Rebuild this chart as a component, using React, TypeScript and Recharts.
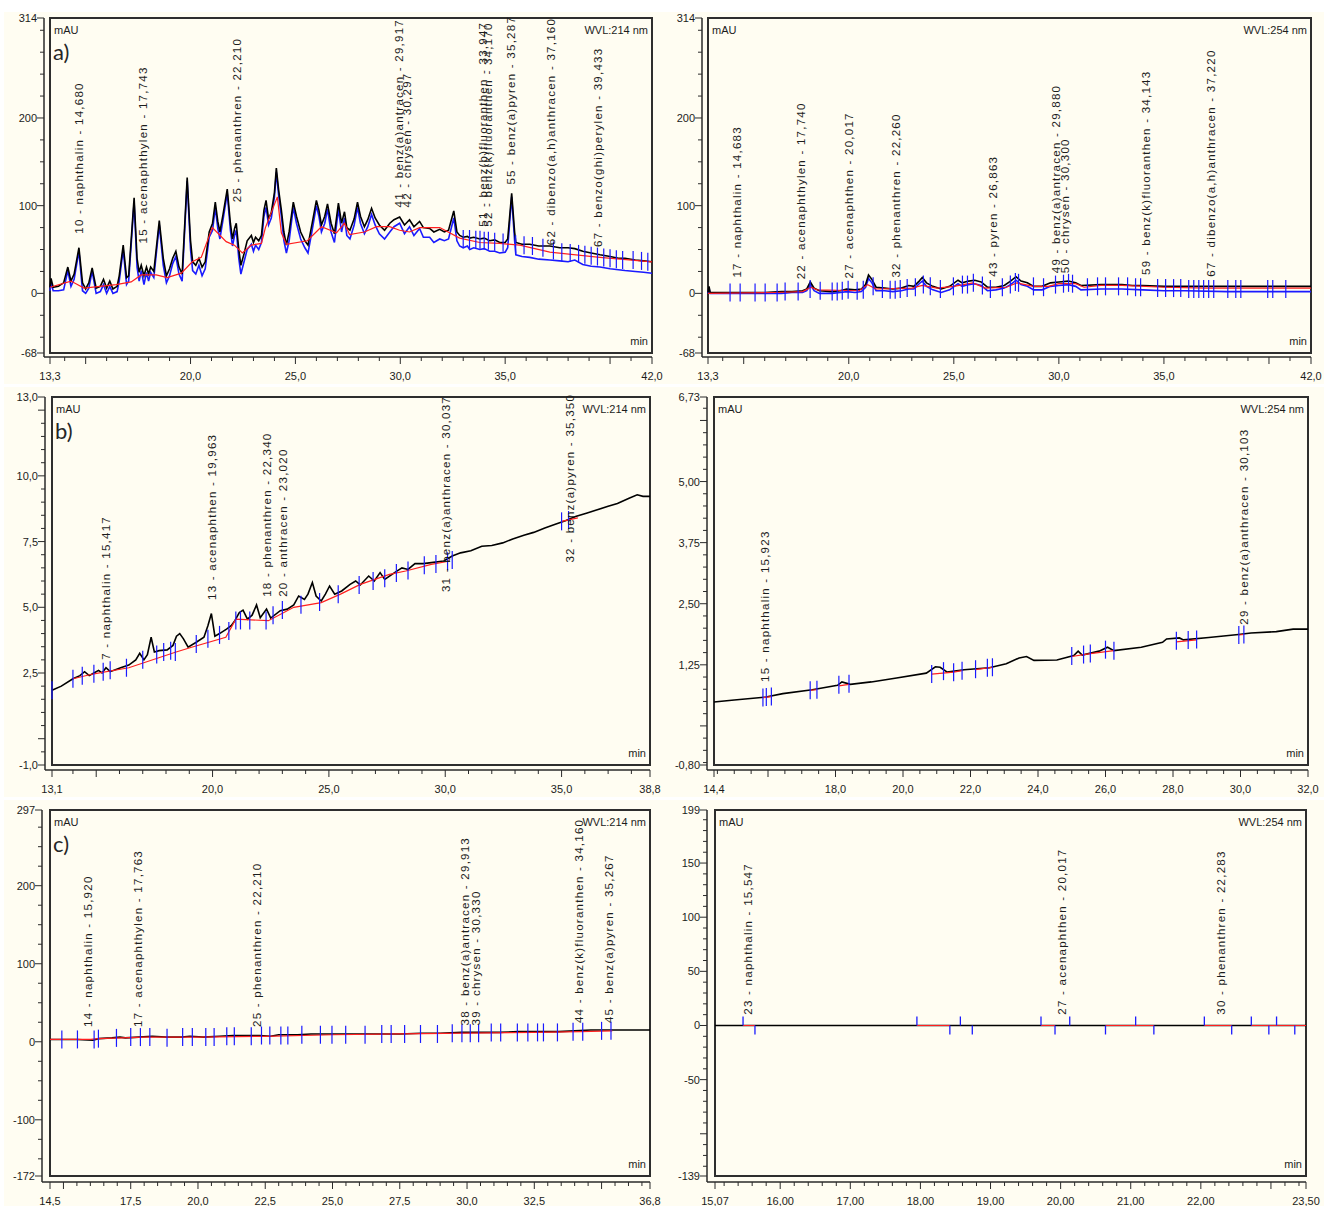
import React from "react";
import { ComposedChart, Line, Scatter, XAxis, YAxis, ReferenceArea } from "recharts";

type Pt = { t: number; v: number | null };
type Peak = { t: number; v: number; name: string };

const pts = (rows: [number, number | null][]): Pt[] => rows.map(([t, v]) => ({ t, v }));
const pk = (rows: [number, number, string][]): Peak[] => rows.map(([t, v, name]) => ({ t, v, name }));

// ---------- a) 214 nm ----------
const aLeftBlack = pts([
  [13.3, 7], [13.35, 17], [13.45, 7], [13.7, 8], [13.95, 12], [14.15, 30], [14.3, 14], [14.45, 22], [14.68, 52],
  [14.85, 12], [15.0, 5], [15.15, 12], [15.31, 29], [15.5, 6], [15.7, 8], [15.85, 16], [16.0, 6], [16.15, 14],
  [16.3, 5], [16.5, 8], [16.6, 20], [16.79, 55], [16.95, 18], [17.05, 20], [17.31, 109], [17.45, 40], [17.55, 24],
  [17.65, 32], [17.78, 20], [17.9, 30], [18.0, 22], [18.1, 30], [18.25, 25], [18.51, 83], [18.7, 40], [18.85, 20],
  [19.0, 28], [19.15, 40], [19.3, 48], [19.45, 30], [19.6, 22], [19.84, 132], [20.0, 60], [20.1, 36], [20.25, 32],
  [20.4, 40], [20.55, 30], [20.7, 36], [20.89, 70], [21.05, 80], [21.18, 104], [21.3, 82], [21.4, 70], [21.55, 90],
  [21.75, 119], [21.9, 80], [22.0, 62], [22.1, 74], [22.18, 80], [22.3, 50], [22.4, 32], [22.55, 45], [22.7, 60],
  [22.9, 66], [23.0, 58], [23.1, 64], [23.25, 60], [23.38, 66], [23.5, 95], [23.6, 106], [23.72, 85], [23.85, 92],
  [24.0, 115], [24.09, 143], [24.2, 118], [24.33, 95], [24.45, 70], [24.57, 55], [24.7, 70], [24.9, 104], [25.05, 88],
  [25.25, 70], [25.45, 60], [25.6, 55], [25.8, 80], [26.0, 106], [26.12, 95], [26.24, 78], [26.4, 88], [26.53, 102],
  [26.7, 80], [26.86, 68], [27.05, 103], [27.2, 80], [27.34, 93], [27.45, 75], [27.6, 72], [27.8, 85], [27.96, 104],
  [28.1, 88], [28.29, 76], [28.45, 84], [28.63, 97], [28.8, 86], [29.0, 78], [29.25, 72], [29.5, 80], [29.7, 84],
  [29.97, 87], [30.2, 78], [30.44, 84], [30.65, 76], [30.92, 82], [31.1, 75], [31.4, 74], [31.6, 70], [31.88, 73],
  [32.1, 70], [32.3, 72], [32.55, 94], [32.7, 70], [32.83, 66], [33.0, 64], [33.2, 65], [33.31, 63], [33.5, 64],
  [33.79, 62], [34.0, 63], [34.26, 60], [34.5, 61], [34.74, 58], [35.0, 58], [35.12, 62], [35.31, 114], [35.45, 70],
  [35.51, 58], [35.8, 56], [36.17, 56], [36.6, 54], [37.13, 54], [37.6, 52], [38.0, 52], [38.32, 51], [38.7, 48],
  [39.1, 46], [39.52, 44], [40.0, 42], [40.4, 40], [40.71, 40], [41.2, 38], [41.6, 37], [42.0, 36],
]);

const aLeftBlue = pts([
  [13.3, 3], [13.35, 12], [13.45, 3], [13.7, 3], [13.95, 4], [14.15, 26], [14.3, 8], [14.45, 16], [14.68, 48],
  [14.85, 3], [15.0, 0], [15.15, 6], [15.31, 25], [15.5, 0], [15.7, 2], [15.85, 10], [16.0, 0], [16.15, 8],
  [16.3, 0], [16.5, 2], [16.6, 14], [16.79, 50], [16.95, 10], [17.05, 14], [17.31, 104], [17.45, 30], [17.55, 14],
  [17.65, 26], [17.78, 10], [17.9, 24], [18.0, 14], [18.1, 24], [18.25, 18], [18.51, 78], [18.7, 32], [18.85, 12],
  [19.0, 20], [19.15, 34], [19.3, 42], [19.45, 22], [19.6, 14], [19.84, 128], [20.0, 50], [20.1, 26], [20.25, 22],
  [20.4, 32], [20.55, 20], [20.7, 28], [20.89, 64], [21.05, 72], [21.18, 98], [21.3, 74], [21.4, 62], [21.55, 84],
  [21.75, 114], [21.9, 72], [22.0, 54], [22.1, 66], [22.18, 72], [22.3, 40], [22.4, 22], [22.55, 36], [22.7, 50],
  [22.9, 56], [23.0, 48], [23.1, 55], [23.25, 50], [23.38, 58], [23.5, 88], [23.6, 98], [23.72, 78], [23.85, 86],
  [24.0, 110], [24.09, 138], [24.2, 112], [24.33, 88], [24.45, 60], [24.57, 46], [24.7, 60], [24.9, 98], [25.05, 80],
  [25.25, 62], [25.45, 52], [25.6, 46], [25.8, 72], [26.0, 100], [26.12, 88], [26.24, 70], [26.4, 80], [26.53, 96],
  [26.7, 70], [26.86, 58], [27.05, 96], [27.2, 70], [27.34, 86], [27.45, 66], [27.6, 62], [27.8, 78], [27.96, 98],
  [28.1, 80], [28.29, 68], [28.45, 76], [28.63, 90], [28.8, 78], [29.0, 68], [29.25, 62], [29.5, 70], [29.7, 76],
  [29.97, 80], [30.2, 68], [30.44, 76], [30.65, 66], [30.92, 74], [31.1, 64], [31.4, 64], [31.6, 58], [31.88, 62],
  [32.1, 60], [32.3, 62], [32.55, 86], [32.7, 60], [32.83, 54], [33.0, 52], [33.2, 54], [33.31, 50], [33.5, 52],
  [33.79, 50], [34.0, 51], [34.26, 48], [34.5, 48], [34.74, 46], [35.0, 47], [35.12, 52], [35.31, 110], [35.45, 60],
  [35.51, 44], [35.8, 42], [36.17, 41], [36.6, 39], [37.13, 38], [37.6, 37], [38.0, 36], [38.32, 38], [38.7, 33],
  [39.1, 31], [39.52, 30], [40.0, 28], [40.4, 27], [40.71, 26], [41.2, 25], [41.6, 24], [42.0, 23],
]);

const aLeftRed = pts([
  [13.3, 7], [14.3, 14], [14.92, 6], [16.45, 10], [17.17, 13], [17.65, 21], [18.36, 21], [18.89, 18], [19.56, 23],
  [20.08, 36], [20.51, 41], [21.04, 75], [21.7, 59], [22.09, 55], [22.47, 46], [22.9, 55], [23.38, 57], [23.57, 75],
  [24.14, 110], [24.33, 69], [24.57, 56], [25.57, 60], [26.24, 76], [26.96, 69], [27.34, 80], [27.58, 67],
  [28.29, 70], [28.87, 76], [29.49, 76], [29.97, 72], [30.44, 70], [30.92, 75], [31.88, 75], [32.83, 63],
  [33.79, 58], [34.74, 57], [35.7, 55], [37.13, 47], [39.52, 41], [42.0, 36],
]);

const aLeftMarks = pts([
  [33.0, 62], [33.3, 62], [33.6, 61], [33.8, 61], [34.0, 60], [34.2, 60], [34.5, 59], [34.9, 58], [35.5, 56],
  [35.9, 55], [36.3, 54], [36.8, 52], [37.3, 49], [37.7, 47], [38.1, 46], [38.5, 45], [38.8, 44], [39.1, 43],
  [39.4, 42], [39.7, 41], [40.0, 40], [40.3, 39], [40.6, 38], [41.1, 38], [41.5, 37], [41.8, 36],
]);

const aLeftPeaks = pk([
  [14.68, 68, "10 - naphthalin - 14,680"],
  [17.743, 57, "15 - acenaphthylen - 17,743"],
  [22.21, 104, "25 - phenanthren - 22,210"],
  [29.917, 98, "41 - benz(a)antracen - 29,917"],
  [30.297, 98, "42 - chrysen - 30,297"],
  [33.947, 76, "51 - benz(b)fluoranthen - 33,947"],
  [34.17, 76, "52 - benz(k)fluoranthen - 34,170"],
  [35.287, 124, "55 - benz(a)pyren - 35,287"],
  [37.16, 55, "62 - dibenzo(a,h)anthracen - 37,160"],
  [39.433, 53, "67 - benzo(ghi)perylen - 39,433"],
]);

// ---------- a) 254 nm ----------
const aRightBlack = pts([
  [13.3, 1], [13.35, 8], [13.4, 1], [14.0, 1], [15.0, 1], [16.0, 1], [16.8, 2], [17.3, 2], [17.8, 3], [18.0, 5],
  [18.17, 13], [18.35, 6], [18.6, 3], [19.2, 2], [19.6, 3], [19.9, 5], [20.3, 4], [20.6, 5], [20.8, 10], [20.94, 21],
  [21.1, 16], [21.3, 7], [21.7, 6], [22.1, 5], [22.5, 6], [22.85, 9], [23.1, 8], [23.35, 14], [23.5, 18], [23.7, 12],
  [24.0, 8], [24.4, 5], [24.8, 8], [25.2, 15], [25.4, 12], [25.7, 14], [26.0, 15], [26.3, 13], [26.6, 7], [27.0, 7],
  [27.4, 9], [27.7, 14], [27.96, 19], [28.2, 14], [28.5, 12], [28.8, 8], [29.2, 8], [29.6, 12], [30.0, 13],
  [30.45, 14], [30.8, 12], [31.05, 9], [32.0, 10], [33.0, 10], [33.5, 9], [34.0, 9], [35.0, 8], [36.0, 8],
  [38.0, 8], [40.0, 8], [42.0, 8],
]);

const aRightBlue = pts([
  [13.3, 0], [13.35, 6], [13.4, 0], [16.0, 0], [16.8, 0], [17.3, 1], [17.8, 1], [18.0, 3], [18.17, 10], [18.35, 3],
  [18.6, 0], [19.2, 0], [19.6, 1], [19.9, 2], [20.3, 1], [20.6, 2], [20.8, 7], [20.94, 17], [21.1, 12], [21.3, 3],
  [21.7, 3], [22.1, 2], [22.5, 3], [22.85, 5], [23.1, 5], [23.35, 11], [23.5, 14], [23.7, 8], [24.0, 4], [24.4, 1],
  [24.8, 4], [25.2, 11], [25.4, 8], [25.7, 10], [26.0, 11], [26.3, 9], [26.6, 3], [27.0, 4], [27.4, 6], [27.7, 10],
  [27.96, 15], [28.2, 10], [28.5, 8], [28.8, 4], [29.2, 4], [29.6, 8], [30.0, 9], [30.45, 10], [30.8, 8], [31.05, 4],
  [32.0, 5], [33.0, 5], [34.0, 4], [35.0, 3], [36.0, 3], [38.0, 2], [40.0, 2], [42.0, 2],
]);

const aRightRed = pts([
  [13.3, 0], [16.5, 1], [17.8, 2], [18.2, 7], [18.5, 4], [20.5, 3], [20.9, 10], [21.3, 5], [23.0, 6], [23.5, 9],
  [24.2, 6], [25.0, 8], [25.9, 12], [26.5, 6], [27.5, 7], [28.0, 12], [28.8, 8], [29.5, 8], [30.0, 11], [30.8, 11],
  [31.2, 7], [32.0, 9], [33.0, 9], [35.0, 7], [37.0, 6], [40.0, 6], [42.0, 6],
]);

const aRightMarks = pts([
  [14.35, 1], [14.83, 1], [15.54, 1], [16.02, 1], [16.59, 1], [16.97, 2], [17.59, 2], [18.16, 5], [18.64, 3],
  [19.21, 2], [19.45, 2], [19.69, 3], [19.97, 4], [20.4, 3], [20.69, 4], [21.16, 8], [21.6, 5], [21.97, 4],
  [22.21, 4], [22.45, 5], [22.78, 6], [23.17, 7], [23.55, 10], [23.88, 8], [24.36, 5], [24.98, 8], [25.41, 10],
  [25.65, 10], [25.93, 12], [26.36, 9], [26.74, 5], [27.31, 7], [27.69, 10], [27.93, 13], [28.08, 12], [28.79, 8],
  [29.27, 7], [29.84, 10], [30.22, 11], [30.46, 12], [30.65, 11], [31.36, 7], [31.84, 8], [32.22, 8], [32.84, 8],
  [33.27, 8], [33.65, 7], [33.89, 7], [34.7, 6], [35.08, 6], [35.46, 6], [35.8, 6], [36.18, 5], [36.42, 5],
  [36.66, 5], [36.89, 5], [37.13, 5], [37.37, 5], [38.04, 5], [38.42, 5], [38.66, 5], [39.94, 5], [40.18, 5],
  [40.8, 5],
]);

const aRightPeaks = pk([
  [14.683, 18, "17 - naphthalin - 14,683"],
  [17.74, 16, "22 - acenaphthylen - 17,740"],
  [20.017, 17, "27 - acenaphthen - 20,017"],
  [22.26, 18, "32 - phenanthren - 22,260"],
  [26.863, 19, "43 - pyren - 26,863"],
  [29.88, 23, "49 - benz(a)antracen - 29,880"],
  [30.3, 23, "50 - chrysen - 30,300"],
  [34.143, 21, "59 - benz(k)fluoranthen - 34,143"],
  [37.22, 19, "67 - dibenzo(a,h)anthracen - 37,220"],
]);

// ---------- b) 214 nm ----------
const bLeftBlack = pts([
  [13.1, 1.84], [13.5, 2.0], [14.0, 2.28], [14.3, 2.4], [14.5, 2.55], [14.7, 2.4], [14.9, 2.5], [15.1, 2.6],
  [15.25, 2.5], [15.42, 2.7], [15.6, 2.55], [16.05, 2.7], [16.4, 2.8], [16.7, 3.0], [16.87, 3.25], [17.05, 3.0],
  [17.2, 3.2], [17.36, 3.86], [17.5, 3.3], [17.7, 3.35], [18.05, 3.38], [18.3, 3.55], [18.45, 3.9], [18.59, 4.0],
  [18.75, 3.8], [18.95, 3.48], [19.3, 3.67], [19.63, 3.86], [19.8, 4.3], [19.95, 4.76], [20.1, 3.9], [20.3, 4.0],
  [20.6, 4.17], [20.8, 4.3], [20.96, 4.49], [21.15, 4.8], [21.31, 4.89], [21.5, 4.55], [21.7, 4.7], [21.89, 5.09],
  [22.05, 4.6], [22.32, 4.93], [22.5, 4.59], [22.91, 4.87], [23.21, 4.93], [23.49, 5.09], [23.7, 5.43], [23.95, 5.3],
  [24.1, 5.5], [24.29, 5.94], [24.45, 5.43], [24.67, 5.24], [24.85, 5.5], [25.03, 5.81], [25.25, 5.5], [25.55, 5.62],
  [25.91, 5.87], [26.15, 6.0], [26.35, 5.85], [26.71, 6.19], [26.95, 6.0], [27.2, 6.32], [27.4, 6.06], [27.87, 6.35],
  [28.14, 6.5], [28.4, 6.44], [28.7, 6.66], [29.05, 6.66], [29.4, 6.7], [29.94, 6.76], [30.3, 6.95], [30.66, 7.07],
  [31.1, 7.15], [31.57, 7.32], [32.0, 7.35], [32.47, 7.45], [32.9, 7.6], [33.38, 7.74], [33.8, 7.85], [34.28, 8.02],
  [34.7, 8.15], [35.19, 8.3], [35.6, 8.45], [36.1, 8.59], [36.5, 8.7], [37.0, 8.84], [37.4, 8.95], [37.9, 9.15],
  [38.25, 9.28], [38.5, 9.22], [38.8, 9.22],
]);

const bLeftRed = pts([
  [14.0, 2.28], [14.9, 2.47], [16.4, 2.7], [18.4, 3.29], [19.1, 3.48], [20.57, 3.86], [21.0, 4.55], [22.4, 4.49],
  [23.49, 5.0], [24.67, 5.18], [25.5, 5.5], [26.35, 5.87], [27.6, 6.25], [28.3, 6.38], [29.4, 6.63], [30.2, 6.76],
  [32.5, null], [35.0, 8.27], [35.7, 8.4],
]);

const bLeftMarks = pts([
  [13.1, 1.84], [14.0, 2.28], [14.4, 2.4], [14.9, 2.47], [15.3, 2.55], [15.6, 2.6], [16.3, 2.7], [17.0, 3.0],
  [17.6, 3.2], [17.9, 3.3], [18.2, 3.35], [18.4, 3.3], [19.3, 3.6], [19.8, 3.8], [20.3, 3.95], [20.7, 4.1],
  [21.0, 4.5], [21.2, 4.5], [21.6, 4.5], [22.3, 4.5], [22.6, 4.7], [23.0, 4.9], [23.8, 5.1], [24.6, 5.2],
  [25.4, 5.5], [26.3, 5.85], [26.9, 6.0], [27.4, 6.1], [27.9, 6.3], [28.4, 6.4], [29.1, 6.6], [29.6, 6.65],
  [30.1, 6.75], [30.3, 6.8], [35.0, 8.27], [35.3, 8.32],
]);

const bLeftPeaks = pk([
  [15.417, 3.0, "7 - naphthalin - 15,417"],
  [19.963, 5.28, "13 - acenaphthen - 19,963"],
  [22.34, 5.4, "18 - phenanthren - 22,340"],
  [23.02, 5.4, "20 - anthracen - 23,020"],
  [30.037, 5.58, "31 - benz(a)anthracen - 30,037"],
  [35.35, 6.7, "32 - benz(a)pyren - 35,350"],
]);

// ---------- b) 254 nm ----------
const bRightBlack = pts([
  [14.4, 0.49], [15.0, 0.53], [15.94, 0.59], [16.44, 0.66], [17.31, 0.74], [18.06, 0.83], [18.19, 0.9], [18.44, 0.85],
  [19.06, 0.9], [19.81, 0.98], [20.69, 1.08], [20.96, 1.21], [21.1, 1.2], [21.31, 1.1], [21.81, 1.15], [22.56, 1.19],
  [23.06, 1.27], [23.44, 1.39], [23.66, 1.42], [23.88, 1.34], [24.56, 1.35], [25.06, 1.44], [25.19, 1.53],
  [25.31, 1.45], [25.81, 1.53], [26.06, 1.61], [26.25, 1.54], [27.06, 1.61], [27.69, 1.71], [27.81, 1.78],
  [28.19, 1.8], [28.31, 1.76], [29.06, 1.81], [29.94, 1.87], [30.31, 1.9], [31.06, 1.93], [31.56, 1.98], [32.0, 1.98],
]);

const bRightRed = pts([
  [15.85, 0.58], [16.1, 0.6], [16.6, null], [17.25, 0.73], [17.45, 0.74], [17.8, null], [18.1, 0.82], [18.4, 0.85],
  [19.5, null], [20.85, 1.06], [21.5, 1.1], [21.75, 1.13], [21.95, null], [22.15, 1.15], [22.65, 1.2], [23.5, null],
  [25.0, 1.42], [25.55, 1.48], [26.25, 1.54], [27.0, null], [28.1, 1.72], [28.7, 1.76], [29.5, null], [29.95, 1.86],
  [30.1, 1.87],
]);

const bRightMarks = pts([
  [15.85, 0.58], [15.95, 0.59], [16.1, 0.6], [17.25, 0.73], [17.45, 0.74], [18.1, 0.84], [18.4, 0.86], [20.85, 1.06],
  [21.2, 1.12], [21.5, 1.1], [21.75, 1.13], [22.15, 1.16], [22.5, 1.19], [22.65, 1.2], [25.0, 1.43], [25.35, 1.46],
  [25.55, 1.48], [26.0, 1.56], [26.25, 1.54], [28.1, 1.74], [28.45, 1.76], [28.7, 1.77], [29.95, 1.86], [30.1, 1.87],
]);

const bRightPeaks = pk([
  [15.923, 0.9, "15 - naphthalin - 15,923"],
  [30.103, 2.07, "29 - benz(a)anthracen - 30,103"],
]);

// ---------- c) 214 nm ----------
const cLeftBlack = pts([
  [14.5, 3], [15.0, 3], [15.5, 3], [16.1, 2], [16.3, 4], [16.8, 5], [17.1, 6], [17.3, 5], [17.8, 6], [18.3, 7],
  [18.8, 6], [19.4, 6], [19.7, 7], [20.2, 6], [20.8, 7], [21.3, 8], [21.8, 8], [22.3, 8], [22.7, 7], [23.0, 9],
  [23.7, 9], [24.2, 10], [24.8, 10], [25.4, 10], [26.0, 10], [26.8, 10], [27.5, 10], [28.3, 11], [29.0, 11],
  [29.8, 12], [30.4, 12], [31.2, 12], [31.9, 13], [32.6, 13], [33.4, 13], [34.0, 14], [34.6, 15], [35.3, 15],
  [36.0, 15], [36.8, 15],
]);

const cLeftRed = pts([
  [14.5, 3], [16.0, 3], [16.3, 4], [18.0, 6], [20.0, 6], [22.5, 7], [25.0, 9], [27.5, 10], [30.0, 11], [32.5, 12],
  [34.2, 13], [35.4, 14],
]);

const cLeftMarks = pts([
  [14.94, 3], [15.52, 3], [16.14, 3], [16.3, 4], [16.97, 5], [17.5, 6], [17.86, 6], [18.21, 6], [18.85, 5],
  [19.43, 6], [19.79, 6], [20.29, 6], [20.6, 6], [21.07, 7], [21.35, 7], [21.98, 7], [22.36, 8], [22.67, 8],
  [23.08, 8], [23.34, 8], [23.86, 9], [24.55, 9], [24.98, 9], [25.49, 9], [26.21, 9], [26.83, 10], [27.18, 10],
  [27.68, 10], [28.27, 10], [28.9, 10], [29.45, 11], [29.81, 11], [30.12, 11], [30.43, 11], [30.9, 12], [31.25, 12],
  [31.87, 12], [32.26, 12], [32.62, 12], [32.84, 12], [33.36, 12], [33.94, 13], [34.3, 13], [35.0, 14], [35.35, 14],
]);

const cLeftPeaks = pk([
  [15.92, 19, "14 - naphthalin - 15,920"],
  [17.763, 19, "17 - acenaphthylen - 17,763"],
  [22.21, 19, "25 - phenanthren - 22,210"],
  [29.913, 21, "38 - benz(a)antracen - 29,913"],
  [30.33, 21, "39 - chrysen - 30,330"],
  [34.16, 24, "44 - benz(k)fluoranthen - 34,160"],
  [35.267, 24, "45 - benz(a)pyren - 35,267"],
]);

// ---------- c) 254 nm ----------
const cRightBlack = pts([[15.07, 0], [23.5, 0]]);

const cRightRed = pts([
  [15.47, 0], [15.64, 0], [16.5, null], [17.95, 0], [18.42, 0], [19.0, null], [19.72, 0], [19.92, 0], [20.3, null],
  [20.64, 0], [21.33, 0], [21.7, null], [22.05, 0], [22.44, 0], [22.6, null], [22.72, 0], [23.5, 0],
]);

const cRightMarks = pts([
  [15.47, 0], [15.64, 0], [17.95, 0], [18.42, 0], [18.57, 0], [18.74, 0], [19.72, 0], [19.92, 0], [20.13, 0],
  [20.64, 0], [21.07, 0], [21.33, 0], [22.05, 0], [22.44, 0], [22.72, 0], [22.97, 0], [23.08, 0], [23.34, 0],
]);

const cRightPeaks = pk([
  [15.547, 10, "23 - naphthalin - 15,547"],
  [20.017, 10, "27 - acenaphthen - 20,017"],
  [22.283, 10, "30 - phenanthren - 22,283"],
]);

// ---------- axis labels ----------
const aXLabels = [13.3, 20, 25, 30, 35, 42];
const aYLabels = [314, 200, 100, 0, -68];
const bLeftXLabels = [13.1, 20, 25, 30, 35, 38.8];
const bLeftYLabels = [13, 10, 7.5, 5, 2.5, -1];
const bRightXLabels = [14.4, 18, 20, 22, 24, 26, 28, 30, 32];
const bRightYLabels = [6.73, 5, 3.75, 2.5, 1.25, -0.8];
const cLeftXLabels = [14.5, 17.5, 20, 22.5, 25, 27.5, 30, 32.5, 36.8];
const cLeftYLabels = [297, 200, 100, 0, -100, -172];
const cRightXLabels = [15.07, 16, 17, 18, 19, 20, 21, 22, 23.5];
const cRightYLabels = [199, 150, 100, 50, 0, -50, -139];

const FONT = '"Liberation Sans", Arial, sans-serif';
const INK = "#1c1c1c";
const AXIS = "#2a2a2a";
const BLUE = "#1a1aff";
const RED = "#ff1f1f";
const CREAM = "#fffdf2";

const near = (list: number[], v: number) => list.some((l) => Math.abs(l - v) < 1e-6);
const fmt = (v: number, d: number) => v.toFixed(d).replace(".", ",");

function buildTicks(min: number, max: number, step: number) {
  const out = [min];
  const k0 = Math.floor(min / step + 1e-6) + 1;
  for (let k = k0; k * step < max - 1e-6; k++) out.push(+(k * step).toFixed(4));
  out.push(max);
  return out;
}

type Cfg = {
  box: [number, number, number, number];
  frame: [number, number, number, number];
  gap: [number, number];
  xLabels: number[]; xMajors: number[]; xStep: number; xDec: number;
  yLabels: number[]; yMajors: number[]; yStep: number; yDec: number;
  black: Pt[]; blue?: Pt[]; red: Pt[]; marks: Pt[]; peaks: Peak[];
  wvl: string; tag?: string; halfMarks?: boolean;
};

const panels: Cfg[] = [
  {
    box: [4, 12, 659, 372], frame: [50, 18, 652, 353], gap: [6, 4],
    xLabels: aXLabels, xMajors: [15, 40], xStep: 1, xDec: 1,
    yLabels: aYLabels, yMajors: [], yStep: 25, yDec: 0,
    black: aLeftBlack, blue: aLeftBlue, red: aLeftRed, marks: aLeftMarks, peaks: aLeftPeaks,
    wvl: "WVL:214 nm", tag: "a)",
  },
  {
    box: [663, 12, 661, 372], frame: [708, 18, 1311, 353], gap: [6, 4],
    xLabels: aXLabels, xMajors: [15, 40], xStep: 1, xDec: 1,
    yLabels: aYLabels, yMajors: [], yStep: 25, yDec: 0,
    black: aRightBlack, blue: aRightBlue, red: aRightRed, marks: aRightMarks, peaks: aRightPeaks,
    wvl: "WVL:254 nm",
  },
  {
    box: [4, 387, 659, 410], frame: [52, 397, 650, 765], gap: [7, 5],
    xLabels: bLeftXLabels, xMajors: [15], xStep: 1, xDec: 1,
    yLabels: bLeftYLabels, yMajors: [12.5, 0], yStep: 0.5, yDec: 1,
    black: bLeftBlack, red: bLeftRed, marks: bLeftMarks, peaks: bLeftPeaks,
    wvl: "WVL:214 nm", tag: "b)",
  },
  {
    box: [663, 387, 661, 410], frame: [714, 397, 1308, 765], gap: [7, 5],
    xLabels: bRightXLabels, xMajors: [16], xStep: 0.5, xDec: 1,
    yLabels: bRightYLabels, yMajors: [6.25, 0], yStep: 0.25, yDec: 2,
    black: bRightBlack, red: bRightRed, marks: bRightMarks, peaks: bRightPeaks,
    wvl: "WVL:254 nm",
  },
  {
    box: [4, 800, 659, 406], frame: [50, 810, 650, 1176], gap: [8, 6],
    xLabels: cLeftXLabels, xMajors: [15, 35], xStep: 0.5, xDec: 1,
    yLabels: cLeftYLabels, yMajors: [], yStep: 25, yDec: 0,
    black: cLeftBlack, red: cLeftRed, marks: cLeftMarks, peaks: cLeftPeaks,
    wvl: "WVL:214 nm", tag: "c)",
  },
  {
    box: [663, 800, 661, 406], frame: [715, 810, 1306, 1176], gap: [8, 6],
    xLabels: cRightXLabels, xMajors: [23], xStep: 0.2, xDec: 2,
    yLabels: cRightYLabels, yMajors: [-100], yStep: 10, yDec: 0,
    black: cRightBlack, red: cRightRed, marks: cRightMarks, peaks: cRightPeaks,
    wvl: "WVL:254 nm", halfMarks: true,
  },
];

function Panel({ cfg }: { cfg: Cfg }) {
  const [bx, by, bw, bh] = cfg.box;
  const [fl, ft, fr, fb] = cfg.frame;
  const [gx, gy] = cfg.gap;
  const x0 = cfg.xLabels[0];
  const x1 = cfg.xLabels[cfg.xLabels.length - 1];
  const y1 = cfg.yLabels[0];
  const y0 = cfg.yLabels[cfg.yLabels.length - 1];
  const ppx = (fr - fl) / (x1 - x0);
  const ppy = (fb - ft) / (y1 - y0);
  const yW = 30;
  const xH = 24;
  const margin = {
    left: fl - gx - bx - yW,
    top: ft - by,
    right: bx + bw - fr,
    bottom: by + bh - (fb + gy) - xH,
  };
  const xTicks = buildTicks(x0, x1, cfg.xStep);
  const yTicks = buildTicks(y0, y1, cfg.yStep);

  const xTick = (p: any) => {
    const v = p.payload.value;
    const lab = near(cfg.xLabels, v);
    const major = lab || near(cfg.xMajors, v);
    return (
      <g>
        <line x1={p.x} x2={p.x} y1={p.y} y2={p.y + (major ? 7 : 4)} stroke={AXIS} strokeWidth={1} />
        {lab && (
          <text x={p.x} y={p.y + 23} textAnchor="middle" fontSize={11} fontFamily={FONT} fill={INK}>
            {fmt(v, cfg.xDec)}
          </text>
        )}
      </g>
    );
  };

  const yTick = (p: any) => {
    const v = p.payload.value;
    const lab = near(cfg.yLabels, v);
    const major = lab || near(cfg.yMajors, v);
    return (
      <g>
        <line x1={p.x} x2={p.x - (major ? 7 : 4)} y1={p.y} y2={p.y} stroke={AXIS} strokeWidth={1} />
        {lab && (
          <text x={p.x - 7} y={p.y + 4} textAnchor="end" fontSize={11} fontFamily={FONT} fill={INK}>
            {fmt(v, cfg.yDec)}
          </text>
        )}
      </g>
    );
  };

  const markShape = (p: any) => {
    const { cx, cy, payload } = p;
    if (cfg.halfMarks) {
      const i = cfg.marks.findIndex((m) => m.t === payload.t);
      const dir = i % 2 === 0 ? -1 : 1;
      return <line x1={cx} x2={cx} y1={cy} y2={cy + dir * 9} stroke={BLUE} strokeWidth={1.3} />;
    }
    return <line x1={cx} x2={cx} y1={cy - 9} y2={cy + 9} stroke={BLUE} strokeWidth={1.2} />;
  };

  const labelShape = (p: any) => {
    const { cx, cy, payload } = p;
    return (
      <text
        transform={`translate(${cx},${cy}) rotate(-90)`}
        dy="0.35em"
        fontSize={11.5}
        letterSpacing={1.25}
        fontFamily={FONT}
        fill={INK}
      >
        {payload.name}
      </text>
    );
  };

  return (
    <div style={{ position: "absolute", left: bx, top: by, width: bw, height: bh, background: CREAM }}>
      <ComposedChart width={bw} height={bh} margin={margin}>
        <XAxis
          type="number"
          dataKey="t"
          domain={[x0 - gx / ppx, x1]}
          ticks={xTicks}
          interval={0}
          tick={xTick}
          tickSize={0}
          tickMargin={0}
          tickLine={false}
          axisLine={{ stroke: AXIS, strokeWidth: 1.5 }}
          height={xH}
        />
        <YAxis
          type="number"
          domain={[y0 - gy / ppy, y1]}
          ticks={yTicks}
          interval={0}
          tick={yTick}
          tickSize={0}
          tickMargin={0}
          tickLine={false}
          axisLine={{ stroke: AXIS, strokeWidth: 1.5 }}
          width={yW}
        />
        <ReferenceArea x1={x0} x2={x1} y1={y0} y2={y1} fill="none" stroke="#2e2e2e" strokeWidth={2} ifOverflow="visible" />
        {cfg.blue && (
          <Line data={cfg.blue} dataKey="v" type="linear" stroke={BLUE} strokeWidth={1.6} dot={false} activeDot={false} isAnimationActive={false} />
        )}
        <Line data={cfg.black} dataKey="v" type="linear" stroke="#000" strokeWidth={1.6} dot={false} activeDot={false} isAnimationActive={false} />
        <Line data={cfg.red} dataKey="v" type="linear" stroke={RED} strokeWidth={1.2} dot={false} activeDot={false} connectNulls={false} isAnimationActive={false} />
        <Scatter data={cfg.marks} dataKey="v" shape={markShape} isAnimationActive={false} />
        <Scatter data={cfg.peaks} dataKey="v" shape={labelShape} isAnimationActive={false} />
      </ComposedChart>
      <svg width={bw} height={bh} style={{ position: "absolute", left: 0, top: 0, pointerEvents: "none" }}>
        <g fontFamily={FONT} fontSize={11} fill={INK}>
          <text x={fl - bx + 4} y={ft - by + 16}>mAU</text>
          <text x={fr - bx - 4} y={ft - by + 16} textAnchor="end">{cfg.wvl}</text>
          <text x={fr - bx - 4} y={fb - by - 8} textAnchor="end">min</text>
        </g>
        {cfg.tag && (
          <text x={fl - bx + 3} y={ft - by + 42} fontFamily="Lato, 'Open Sans', sans-serif" fontSize={22} fill="#262626">
            {cfg.tag}
          </text>
        )}
      </svg>
    </div>
  );
}

export default function App() {
  return (
    <div style={{ position: "absolute", left: 0, top: 0, width: 1324, height: 1206, background: "#fff", overflow: "hidden" }}>
      {panels.map((cfg, i) => (
        <Panel key={i} cfg={cfg} />
      ))}
    </div>
  );
}
